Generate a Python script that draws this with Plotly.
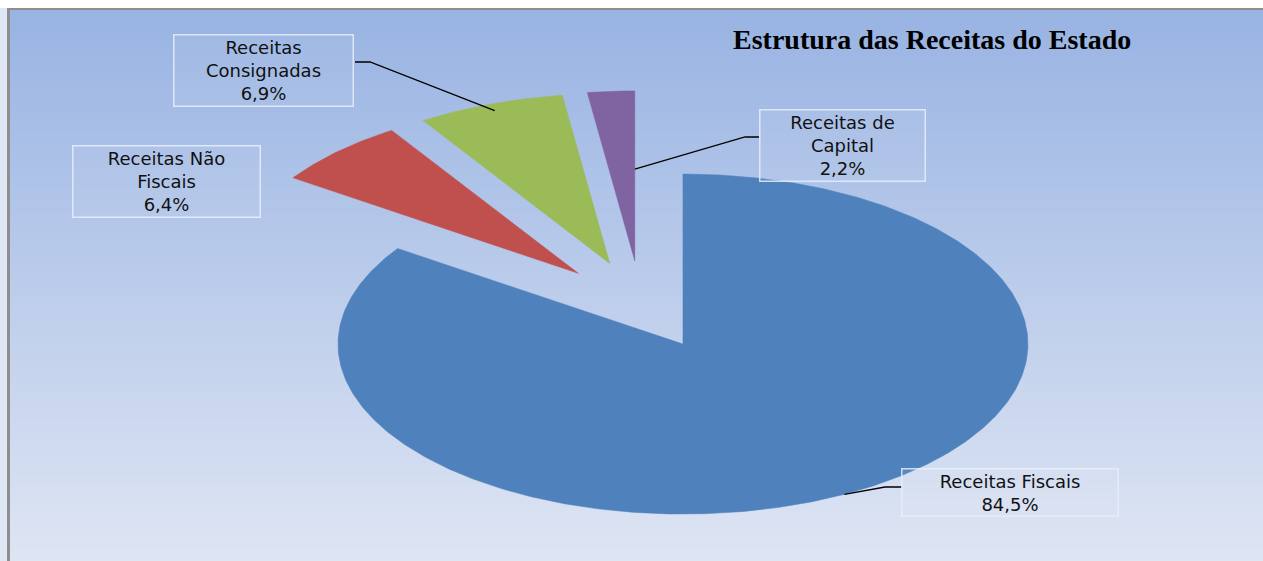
import numpy as np
import plotly.graph_objects as go

# ---------------- data ----------------
labels = ["Receitas Fiscais", "Receitas Não Fiscais", "Receitas Consignadas", "Receitas de Capital"]
values = [84.5, 6.4, 6.9, 2.2]
colors = ["#4F81BD", "#C0504D", "#9BBB59", "#8064A2"]
title_text = "Estrutura das Receitas do Estado"

# ---------------- layout constants ----------------
W, H = 1263, 561
CX, CY = 641, 305        # pixel position of pie centre
RX, RY = 345, 170        # pixel radii (elliptical look)
EXPLODE = 0.26           # explode offset (fraction of radius)


def px(xp):
    return xp / W


def py(yp):
    return 1 - yp / H


def dx(xp):
    return (xp - CX) / RX


def dy(yp):
    return (CY - yp) / RY


fig = go.Figure()

# ---------------- background gradient ----------------
top = np.array([153, 180, 227])
bot = np.array([223, 230, 244])
y_start = 10
nb = 140
edges = np.linspace(y_start, H + 2, nb + 1)
shapes = []
for i in range(nb):
    t = (edges[i] - y_start) / (H - y_start)
    c = top + (bot - top) * t
    shapes.append(dict(type="rect", xref="paper", yref="paper",
                       x0=px(10), x1=1.01, y0=py(edges[i + 1]) - 0.002, y1=py(edges[i]),
                       fillcolor=f"rgb({int(c[0])},{int(c[1])},{int(c[2])})",
                       line=dict(width=0), layer="below"))
# white strip above the chart frame
shapes.append(dict(type="rect", xref="paper", yref="paper", x0=-0.01, x1=1.01,
                   y0=py(8), y1=1.01, fillcolor="white", line=dict(width=0), layer="below"))
# frame
shapes.append(dict(type="line", xref="paper", yref="paper", x0=px(8.5), x1=px(8.5),
                   y0=py(8), y1=py(H + 5), line=dict(color="#8E8E8E", width=3), layer="below"))
shapes.append(dict(type="line", xref="paper", yref="paper", x0=px(7), x1=1.01,
                   y0=py(9), y1=py(9), line=dict(color="#8E8E8E", width=2), layer="below"))

# ---------------- pie slices (elliptical via axis scaling) ----------------
total = sum(values)
start = 0.0
geo = {}
for lab, v, c in zip(labels, values, colors):
    a0 = start / total * 360
    a1 = (start + v) / total * 360
    start += v
    mid = np.radians((a0 + a1) / 2)
    ox, oy = EXPLODE * np.sin(mid), EXPLODE * np.cos(mid)
    n = max(12, int((a1 - a0) * 1.5))
    t = np.radians(np.linspace(a0, a1, n))
    xs = np.concatenate([[ox], ox + np.sin(t), [ox]])
    ys = np.concatenate([[oy], oy + np.cos(t), [oy]])
    geo[lab] = (ox, oy, mid, np.radians(a0), np.radians(a1))
    pct = f"{v:.1f}".replace(".", ",") + "%"
    fig.add_trace(go.Scatter(x=xs, y=ys, mode="lines", fill="toself", fillcolor=c,
                             line=dict(color=c, width=0.5), name=lab,
                             hoveron="fills", text=f"{lab}: {pct}", hoverinfo="text",
                             showlegend=False))

# ---------------- labels ----------------
label_font = dict(family="DejaVu Sans", size=18, color="#111111")


def pct_of(i):
    return f"{values[i]:.1f}".replace(".", ",") + "%"


display = {
    labels[0]: "Receitas Fiscais<br>" + pct_of(0),
    labels[1]: "Receitas Não<br>Fiscais<br>" + pct_of(1),
    labels[2]: "Receitas<br>Consignadas<br>" + pct_of(2),
    labels[3]: "Receitas de<br>Capital<br>" + pct_of(3),
}
# text box centres (pixels) and box widths
box_pos = {
    labels[0]: (1010, 492, 213),
    labels[1]: (166, 181, 184),
    labels[2]: (263, 70, 176),
    labels[3]: (842, 145, 162),
}


def anchor(lab, r=1.0, which="mid"):
    ox, oy, mid, a0, a1 = geo[lab]
    ang = {"mid": mid, "end": a1, "start": a0}[which]
    return ox + r * np.sin(ang), oy + r * np.cos(ang)


# leader lines: slice anchor -> elbow -> box edge (elbow/box edge in pixels)
leaders = {
    labels[0]: (anchor(labels[0], 1.0, "mid"), [(885, 487), (902, 487)]),
    labels[2]: (anchor(labels[2], 0.96, "mid"), [(370, 62), (355, 62)]),
    labels[3]: (anchor(labels[3], 0.54, "end"), [(745, 137), (759, 137)]),
}
for lab, (a, pts) in leaders.items():
    lx = [a[0]] + [dx(p[0]) for p in pts]
    ly = [a[1]] + [dy(p[1]) for p in pts]
    fig.add_trace(go.Scatter(x=lx, y=ly, mode="lines", line=dict(color="#000000", width=1.3),
                             hoverinfo="skip", showlegend=False))

annotations = []
for lab in labels:
    bx, by, bw = box_pos[lab]
    annotations.append(dict(text=display[lab], font=label_font, align="center",
                            bordercolor="rgba(232,238,250,0.85)", borderwidth=1.5, borderpad=1,
                            bgcolor="rgba(255,255,255,0.06)", width=bw,
                            x=dx(bx), y=dy(by), xref="x", yref="y", showarrow=False))

annotations.append(dict(text="<b>" + title_text + "</b>", x=px(932), y=py(40),
                        xref="paper", yref="paper", showarrow=False,
                        xanchor="center", yanchor="middle",
                        font=dict(family="Liberation Serif", size=28, color="#000000")))

fig.update_layout(
    width=W, height=H, autosize=False,
    margin=dict(l=0, r=0, t=0, b=0, pad=0),
    paper_bgcolor="rgb(223,230,244)", plot_bgcolor="rgba(0,0,0,0)",
    xaxis=dict(range=[dx(0), dx(W)], visible=False, fixedrange=True),
    yaxis=dict(range=[dy(H), dy(0)], visible=False, fixedrange=True),
    shapes=shapes, annotations=annotations, showlegend=False,
)

fig.write_html(
    "out.html",
    post_script=("document.body.style.margin='0';document.body.style.overflow='hidden';"
                 "document.documentElement.style.overflow='hidden';"
                 "document.body.style.background='rgb(223,230,244)';"),
    config={"displayModeBar": False},
)
